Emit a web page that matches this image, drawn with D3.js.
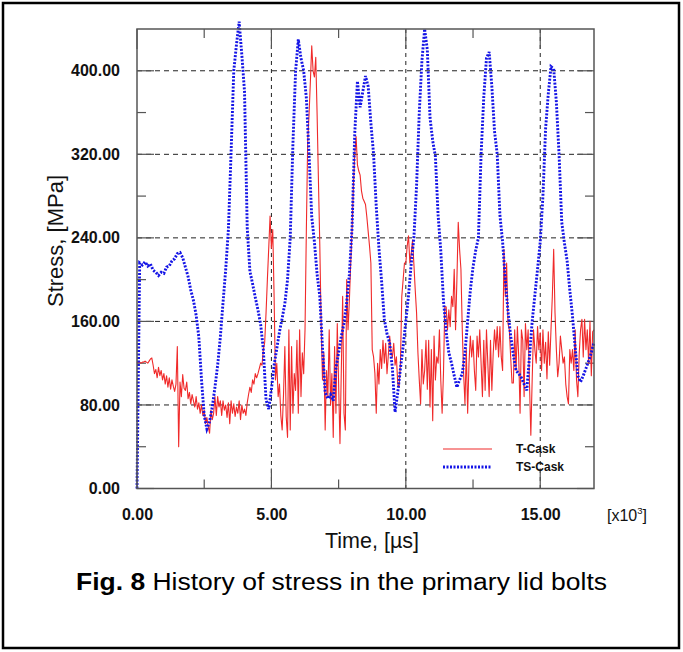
<!DOCTYPE html>
<html><head><meta charset="utf-8">
<script src="https://cdn.jsdelivr.net/npm/d3@7"></script>
<style>body{margin:0;background:#fff}</style>
</head><body><svg id="c" width="683" height="652"></svg>
<script>
// sample spacing (µs) of each series
const tsStep = 100;
const tStep = 50;
// TS-Cask, every 100 µs from 0 to 17000
const tsCask = [
0,216,214,217,213,215,209,207,204,207,
206,212,213,218,220,225,226,221,212,203,
190,180,166,145,104,70,57,64,78,97,
118,145,178,210,248,322,400,425,447,415,
380,250,208,196,183,171,157,133,85,76,
95,118,134,150,163,177,200,240,330,400,
430,412,400,374,320,260,236,205,184,135,
92,86,90,84,115,130,146,158,178,205,
250,340,390,365,380,395,385,350,320,270,
230,198,162,148,139,115,73,92,115,136,
160,185,215,240,290,360,410,440,420,355,
333,318,262,228,180,150,130,120,108,97,
104,110,130,160,190,212,228,240,320,375,
412,418,385,342,320,262,236,200,170,146,
128,113,110,106,100,94,126,160,185,210,
236,280,345,378,404,402,370,320,255,235,
218,190,165,135,108,102,108,115,122,130,
140];
// T-Cask, every 50 µs from 0 to 17000
const tCask = [
120,121,121,120,121,121,122,121,120,122,
124,125,118,110,114,106,116,108,113,104,
110,100,108,97,106,95,104,98,93,100,
136,40,102,88,109,96,94,102,86,92,
81,90,84,78,88,76,82,72,80,70,
75,62,68,59,53,75,66,72,88,70,
88,78,84,70,84,75,80,68,82,62,
84,72,81,69,78,72,84,66,80,72,
76,70,82,90,97,92,104,100,110,106,
110,115,120,118,133,140,168,200,230,261,
230,248,184,104,120,88,100,70,56,90,
136,69,49,152,56,136,72,110,94,142,
72,152,88,130,110,152,248,333,358,390,
424,400,394,413,358,294,233,158,104,130,
56,113,88,152,80,110,49,136,72,158,
100,43,113,184,72,56,200,152,180,216,
248,290,320,337,310,304,300,285,278,275,
272,260,246,232,216,133,126,110,72,120,
100,133,115,142,120,139,110,128,146,130,
126,139,118,126,100,97,120,184,200,216,
216,232,242,216,225,238,215,190,168,130,
104,81,133,100,113,142,95,142,78,133,
65,146,104,126,120,152,104,72,110,174,
174,152,171,155,184,174,210,152,200,255,
229,210,152,110,81,133,72,120,146,126,
142,113,94,146,126,152,120,88,142,94,
152,120,88,142,94,129,152,133,155,126,
155,126,113,229,184,216,158,152,126,101,
101,152,113,155,126,72,152,142,88,158,
133,152,101,51,104,152,133,120,155,133,
149,113,152,120,140,105,150,118,152,184,
229,168,133,107,120,146,133,120,126,100,
88,81,133,120,133,113,152,104,88,129,
152,162,126,162,133,152,120,160,108,150,
152];
const yTicks = [0,80,160,240,320,400];
const yMinor = [40,120,200,280,360];
const xTicks = [0,5000,10000,15000];
const xMinor = [2500,7500,12500];
const seriesNames = ["T-Cask","TS-Cask"];

const svg = d3.select("#c");
const L=137, R=594, T=29, B=488.5;
const x = d3.scaleLinear().domain([0,17000]).range([L,R]);
const y = d3.scaleLinear().domain([0,440]).range([B,T]);
const ff = "Liberation Sans, Arial, Helvetica, sans-serif";

// outer frame
svg.append("rect").attr("x",3).attr("y",3).attr("width",676).attr("height",645)
  .attr("fill","none").attr("stroke","#000").attr("stroke-width",2.5);

// grid
const g = svg.append("g");
g.selectAll(".hg").data(yTicks.slice(1)).join("line")
  .attr("x1",L).attr("x2",R).attr("y1",d=>y(d)).attr("y2",d=>y(d))
  .attr("stroke","#222").attr("stroke-width",1).attr("stroke-dasharray","5,4");
g.selectAll(".vg").data(xTicks.slice(1)).join("line")
  .attr("y1",T).attr("y2",B).attr("x1",d=>x(d)).attr("x2",d=>x(d))
  .attr("stroke","#222").attr("stroke-width",1).attr("stroke-dasharray","4,4");

// ticks inside
const tk = svg.append("g").attr("stroke","#555").attr("stroke-width",1.2);
yTicks.concat(yMinor).forEach(v=>{
  const len = yTicks.includes(v)?17:9;
  tk.append("line").attr("x1",L).attr("x2",L+len).attr("y1",y(v)).attr("y2",y(v));
  tk.append("line").attr("x1",R-len).attr("x2",R).attr("y1",y(v)).attr("y2",y(v));
});
xTicks.concat(xMinor).forEach(v=>{
  const len = xTicks.includes(v)?20:9;
  tk.append("line").attr("x1",x(v)).attr("x2",x(v)).attr("y1",B).attr("y2",B-len);
  tk.append("line").attr("x1",x(v)).attr("x2",x(v)).attr("y1",T).attr("y2",T+len);
});

// lines
const lineTs = d3.line().x((d,i)=>x(i*tsStep)).y(d=>y(d));
const lineT = d3.line().x((d,i)=>x(i*tStep)).y(d=>y(d));
svg.append("path").datum(tCask).attr("d",lineT)
  .attr("fill","none").attr("stroke","#f02a2a").attr("stroke-width",1.1).attr("stroke-linejoin","round");
svg.append("path").datum(tsCask).attr("d",lineTs)
  .attr("fill","none").attr("stroke","#1414e6").attr("stroke-width",2.9)
  .attr("stroke-dasharray","2,1.5");

// plot frame
svg.append("rect").attr("x",L).attr("y",T).attr("width",R-L).attr("height",B-T)
  .attr("fill","none").attr("stroke","#555").attr("stroke-width",1.5);

// axes labels
const fmt = d3.format(".2f");
const ax = d3.axisLeft(y).tickValues(yTicks).tickFormat(fmt).tickSize(0).tickPadding(17);
const ag = svg.append("g").attr("transform",`translate(${L},0)`).call(ax);
ag.select(".domain").remove();
ag.selectAll("text").attr("font-family",ff)
  .attr("font-weight","bold").attr("font-size",16).attr("fill","#111");
const bx = d3.axisBottom(x).tickValues(xTicks).tickFormat(d=>fmt(d/1000)).tickSize(0).tickPadding(20);
const bg = svg.append("g").attr("transform",`translate(0,${B})`).call(bx);
bg.select(".domain").remove();
bg.selectAll("text").attr("font-family",ff)
  .attr("font-weight","bold").attr("font-size",16).attr("fill","#111");

const xm = svg.append("text").attr("x",607).attr("y",521).attr("font-family",ff)
  .attr("font-size",16).attr("fill","#111");
xm.append("tspan").text("[x10");
xm.append("tspan").attr("font-size",9.5).attr("dy",-7).text("3");
xm.append("tspan").attr("dy",7).text("]");

svg.append("text").attr("x",372).attr("y",548).attr("text-anchor","middle")
  .attr("font-family",ff).attr("font-size",22).attr("fill","#111")
  .attr("textLength",94).attr("lengthAdjust","spacingAndGlyphs").text("Time,  [µs]");
svg.append("text").attr("transform","translate(63,241) rotate(-90)").attr("text-anchor","middle")
  .attr("font-family",ff).attr("font-size",22).attr("fill","#111").text("Stress,  [MPa]");

// legend
const lg = svg.append("g");
lg.append("line").attr("x1",443).attr("x2",492).attr("y1",449).attr("y2",449)
  .attr("stroke","#f02a2a").attr("stroke-width",1.2);
lg.append("line").attr("x1",443).attr("x2",492).attr("y1",467).attr("y2",467)
  .attr("stroke","#1414e6").attr("stroke-width",2.9).attr("stroke-dasharray","2,1.5");
lg.selectAll("text").data(seriesNames).join("text")
  .attr("x",516).attr("y",(d,i)=>453+i*18).attr("font-family",ff)
  .attr("font-weight","bold").attr("font-size",12).attr("fill","#111").text(d=>d);

// caption
const cap = svg.append("text").attr("x",76).attr("y",590).attr("font-family",ff)
  .attr("font-size",23).attr("fill","#000")
  .attr("textLength",531).attr("lengthAdjust","spacingAndGlyphs");
cap.append("tspan").attr("font-weight","bold").text("Fig. 8");
cap.append("tspan").text(" History of stress in the primary lid bolts");
</script></body></html>
